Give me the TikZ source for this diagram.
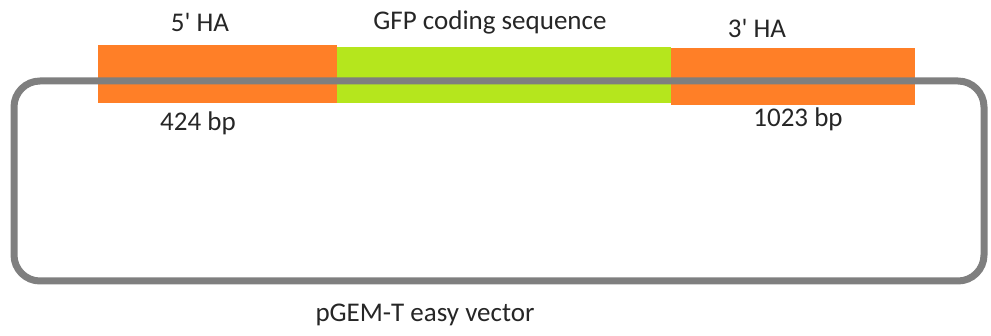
\documentclass[tikz,border=0pt]{standalone}
\usepackage{fontspec}
\setmainfont{Carlito}[Ligatures=TeXOff]
\usepackage{tikz}
\definecolor{haorange}{HTML}{FF7F27}
\definecolor{gfpgreen}{HTML}{B5E61D}
\definecolor{vecgray}{HTML}{7F7F7F}
\tikzset{lbl/.style={font=\fontsize{27}{32}\selectfont, text=black!85}}

\begin{document}
\begin{tikzpicture}[x=1pt, y=-1pt]
        \useasboundingbox (0, 0) rectangle (991, 336);
        \fill[haorange] (98, 45) rectangle (337, 103);
        \fill[gfpgreen] (337, 47) rectangle (671, 103);
        \fill[haorange] (671, 48) rectangle (915, 105);
        \draw[vecgray, line width = 7pt, rounded corners = 26pt] (14, 81) rectangle (984, 281);
        \node[lbl] (ha5) at (200, 22) {5' HA};
        \node[lbl] (gfp) at (490, 22) {GFP coding sequence};
        \node[lbl] (ha3) at (757, 28) {3' HA};
        \node[lbl] (bp5) at (198, 123) {424 bp};
        \node[lbl] (bp3) at (798, 119) {1023 bp};
        \node[lbl] (vec) at (425, 315) {pGEM-T easy vector};
    \end{tikzpicture}
\end{document}
